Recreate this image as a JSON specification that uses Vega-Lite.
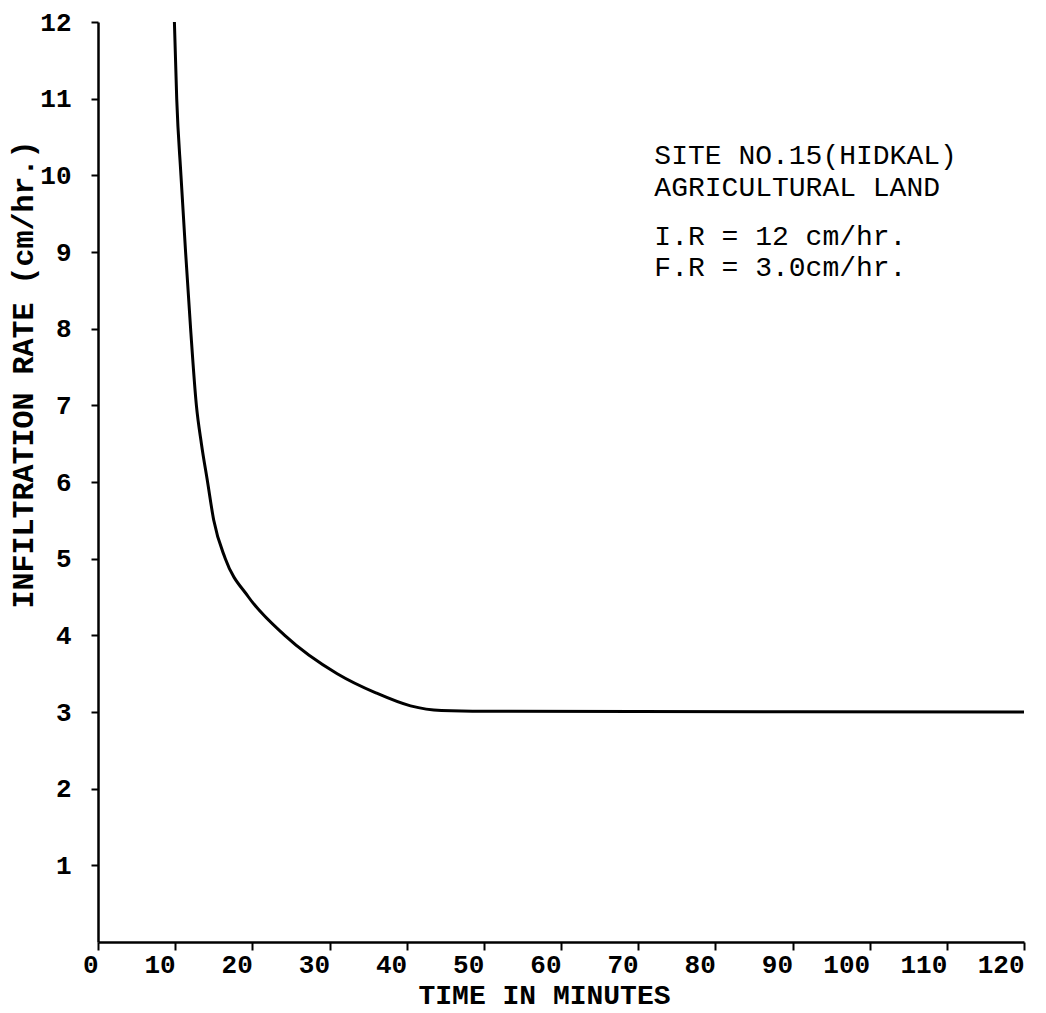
{
  "$schema": "https://vega.github.io/schema/vega-lite/v6.json",
  "width": 926,
  "height": 920,
  "autosize": {"type": "none"},
  "padding": {"left": 98, "top": 22, "right": 22, "bottom": 71},
  "background": "white",
  "config": {
    "view": {"stroke": null},
    "axis": {
      "grid": false,
      "domainColor": "black",
      "domainWidth": 2.5,
      "tickColor": "black",
      "tickWidth": 2,
      "labelColor": "black",
      "titleColor": "black",
      "labelFont": "Liberation Mono",
      "titleFont": "Liberation Mono",
      "labelFontSize": 26,
      "labelFontWeight": "bold",
      "titleFontSize": 30,
      "titleFontWeight": "bold"
    }
  },
  "layer": [
    {
      "data": {
        "values": [
          {"t": 9.9, "rate": 12},
          {"t": 10.2, "rate": 11},
          {"t": 10.75, "rate": 10},
          {"t": 11.35, "rate": 9},
          {"t": 12.0, "rate": 8},
          {"t": 12.75, "rate": 7},
          {"t": 13.4, "rate": 6.5},
          {"t": 14.2, "rate": 6},
          {"t": 15.0, "rate": 5.5},
          {"t": 16.5, "rate": 5},
          {"t": 19.5, "rate": 4.5},
          {"t": 24.2, "rate": 4},
          {"t": 31.0, "rate": 3.5},
          {"t": 36.0, "rate": 3.25},
          {"t": 40.5, "rate": 3.08},
          {"t": 44.5, "rate": 3.02},
          {"t": 50.0, "rate": 3.01},
          {"t": 120.0, "rate": 3.0}
        ]
      },
      "mark": {"type": "line", "color": "black", "strokeWidth": 3, "interpolate": "monotone"},
      "encoding": {
        "x": {
          "field": "t", "type": "quantitative",
          "scale": {"domain": [0, 120], "nice": false, "zero": false},
          "axis": {
            "values": [0, 10, 20, 30, 40, 50, 60, 70, 80, 90, 100, 110, 120],
            "format": "d",
            "title": "TIME IN MINUTES",
            "titleFontSize": 28,
            "tickSize": 8,
            "labelPadding": 1,
            "labelAlign": "right",
            "labelDx": 8,
            "labelFlush": false,
            "labelOverlap": false,
            "titleX": 446,
            "titleY": 53,
            "titleAlign": "center",
            "titleBaseline": "middle"
          }
        },
        "y": {
          "field": "rate", "type": "quantitative",
          "scale": {"domain": [0, 12], "nice": false},
          "axis": {
            "values": [1, 2, 3, 4, 5, 6, 7, 8, 9, 10, 11, 12],
            "format": "d",
            "title": "INFILTRATION RATE (cm/hr.)",
            "tickSize": 7,
            "labelPadding": 20,
            "labelFlush": false,
            "labelOverlap": false,
            "titleAngle": -90,
            "titleX": -75,
            "titleY": 352,
            "titleAlign": "center",
            "titleBaseline": "middle"
          }
        }
      }
    },
    {
      "data": {
        "values": [
          {"t": 72.1, "rate": 10.25, "label": "SITE NO.15(HIDKAL)"},
          {"t": 72.1, "rate": 9.84, "label": "AGRICULTURAL LAND"},
          {"t": 72.1, "rate": 9.2, "label": "I.R = 12 cm/hr."},
          {"t": 72.1, "rate": 8.79, "label": "F.R = 3.0cm/hr."}
        ]
      },
      "mark": {"type": "text", "align": "left", "baseline": "middle", "font": "Liberation Mono", "fontSize": 28, "color": "black"},
      "encoding": {
        "x": {"field": "t", "type": "quantitative"},
        "y": {"field": "rate", "type": "quantitative"},
        "text": {"field": "label"}
      }
    }
  ]
}
